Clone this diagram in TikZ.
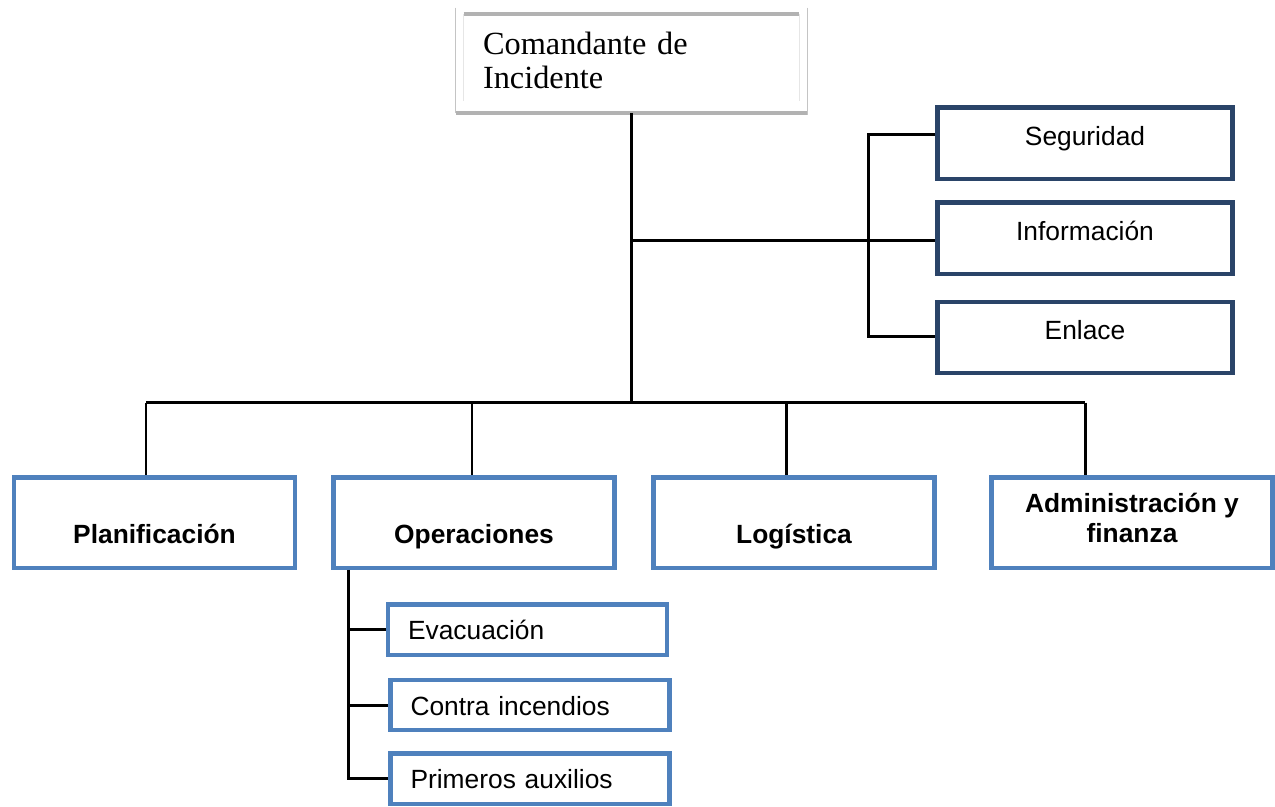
\documentclass[tikz,border=0pt]{standalone}
\usepackage{fontspec}
\setmainfont{Liberation Serif}
\newfontfamily\arialfont{Liberation Sans}
\usetikzlibrary{calc}
\definecolor{navy}{RGB}{42,68,104}
\definecolor{lightblue}{RGB}{79,129,189}
\definecolor{framegray}{RGB}{178,178,178}
\definecolor{thingray}{RGB}{196,196,196}
\definecolor{palegray}{RGB}{230,230,230}

\tikzset{
  cmdframe/.style={minimum width=7.02cm, minimum height=2.1cm, text width=5.94cm,
    inner xsep=0.54cm, inner ysep=0pt, align=left, font=\fontsize{18.4pt}{19.3pt}\selectfont},
  staffbox/.style={draw=navy, line width=2.55pt, minimum width=5.91cm, minimum height=1.43cm,
    inner sep=0pt, text height=0.4cm, text depth=0.32cm, font=\arialfont\fontsize{15pt}{18pt}\selectfont},
  sectionbox/.style={draw=lightblue, line width=2.55pt, minimum width=5.62cm, minimum height=1.81cm,
    inner sep=0pt, font=\arialfont\bfseries\fontsize{15pt}{17pt}\selectfont},
  sectiontext/.style={text height=0.82cm, text depth=0pt},
  unitbox/.style={draw=lightblue, line width=2.55pt, text width=4.78cm, inner xsep=0.4cm,
    inner ysep=0pt, minimum height=1.01cm, align=left, text height=0.4cm, text depth=0pt,
    font=\arialfont\fontsize{15pt}{18pt}\selectfont},
  link/.style={line width=1.7pt}
}

\begin{document}
\begin{tikzpicture}[x=0.02cm,y=-0.02cm]
    \useasboundingbox (0,0) rectangle (1275,806);

    % mando
    \node[cmdframe] (cmd) at (631.5,60.5) {Comandante de\\Incidente};
    \draw[thingray, line width=0.9pt] (cmd.north west) -- (cmd.south west);
    \draw[thingray, line width=0.9pt] (cmd.north east) -- ($(cmd.south east)+(0,2)$);
    \draw[palegray, line width=0.6pt] ($(cmd.north west)+(8,6)$) -- ($(cmd.south west)+(8,-12)$);
    \draw[palegray, line width=0.6pt] ($(cmd.north east)+(-8,6)$) -- ($(cmd.south east)+(-8,-12)$);
    \draw[framegray, line width=2.3pt] ($(cmd.north west)+(8,6)$) -- ($(cmd.north east)+(-8,6)$);
    \draw[framegray, line width=2.3pt] (cmd.south west) -- (cmd.south east);

    % staff
    \node[staffbox] (seg) at (1085,143) {Seguridad};
    \node[staffbox] (info) at (1085,238) {Información};
    \node[staffbox] (enl) at (1085,337.5) {Enlace};

    % secciones
    \node[sectionbox, sectiontext] (plan) at (154.5,522.5) {Planificación};
    \node[sectionbox, sectiontext] (ops) at (474,522.5) {Operaciones};
    \node[sectionbox, sectiontext] (log) at (794,522.5) {Logística};
    \node[sectionbox, align=center] (adm) at (1132,522.5) {Administración y\\finanza\rule[-0.18cm]{0pt}{0pt}};

    % operaciones
    \node[unitbox] (evac) at (527.5,629.5) {Evacuación};
    \node[unitbox] (fire) at (530,705) {Contra incendios};
    \node[unitbox] (aid) at (530,778.5) {Primeros auxilios};

    \coordinate (dplan) at (146,402.5);
    \coordinate (dops) at (472,402.5);
    \coordinate (dlog) at (786,402.5);
    \coordinate (dadm) at (1085,402.5);
    \draw[link] (cmd.south) -- (cmd.south |- dplan);
    \draw[link] (dplan) -- (dadm);
    \foreach \d/\n in {dplan/plan, dops/ops, dlog/log, dadm/adm}
        \draw[link] (\d) -- (\d |- \n.north);

    \coordinate (brmid) at (632,240.5);
    \coordinate (brtop) at (868,134);
    \coordinate (brbot) at (868,336);
    \draw[link] (brmid) -- (brmid -| info.west);
    \draw[link] (brtop -| seg.west) -- (brtop) -- (brbot) -- (brbot -| enl.west);

    \coordinate (opsbar) at ($(ops.south west)+(17,0)$);
    \draw[link] (opsbar) |- (aid.west);
    \draw[link] (opsbar |- evac.west) -- (evac.west);
    \draw[link] (opsbar |- fire.west) -- (fire.west);
\end{tikzpicture}
\end{document}
